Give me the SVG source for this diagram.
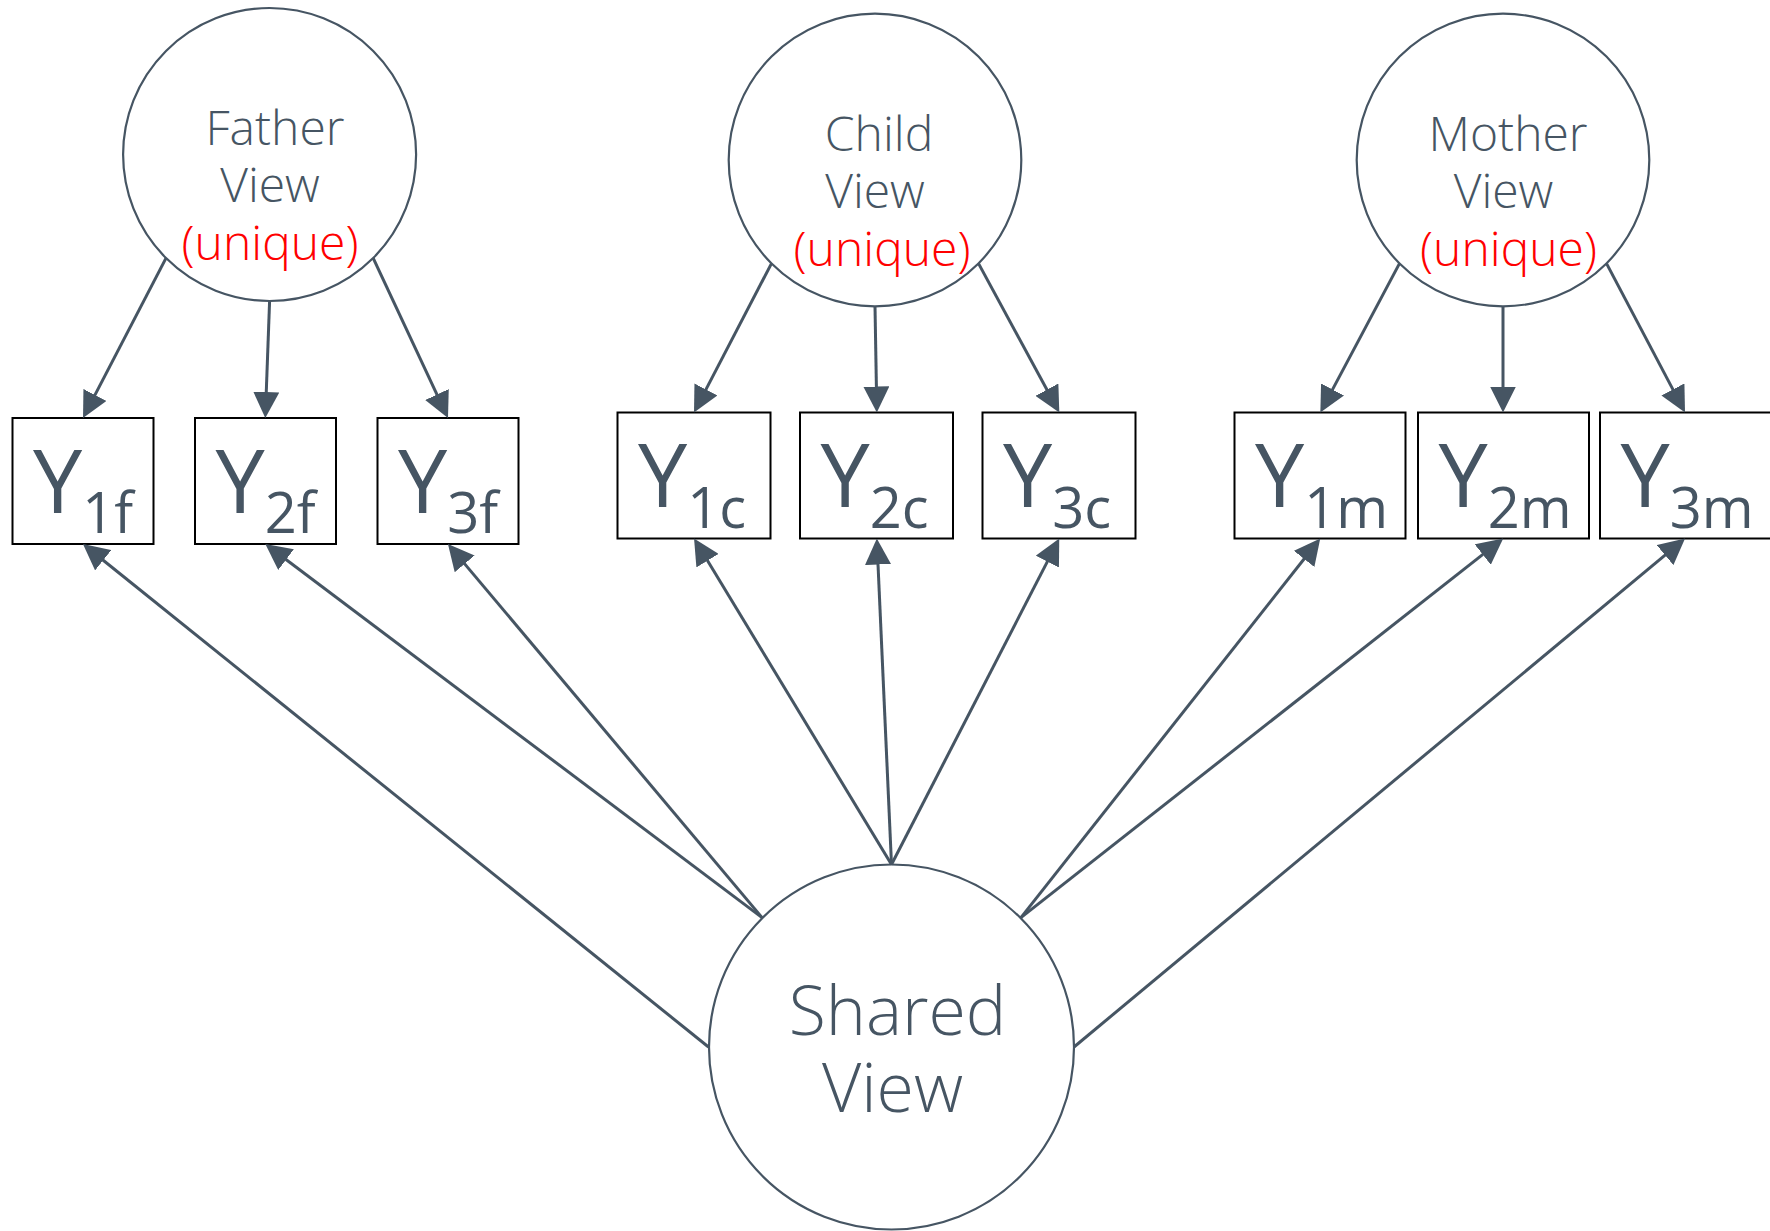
<svg xmlns="http://www.w3.org/2000/svg" width="1770" height="1231" viewBox="0 0 1770 1231">
  <style>
    .view { fill: #ffffff; stroke: #465563; stroke-width: 2.2; }
    .box { fill: #ffffff; stroke: #000000; stroke-width: 2; }
    .lbl { font-family: "Open Sans", "Noto Sans", "DejaVu Sans", sans-serif; font-weight: 300; fill: #465563; text-anchor: middle; font-size: 48px; }
    .big { font-size: 68px; }
    .uniq { fill: #ff0000; }
    .y { font-family: "Open Sans", "Noto Sans", "DejaVu Sans", sans-serif; font-weight: 400; fill: #465563; font-size: 88px; }
    .sub { font-size: 56px; }
    .edge { stroke: #465563; stroke-width: 3; fill: none; marker-end: url(#ah); }
  </style>
  <defs>
    <marker id="ah" markerUnits="userSpaceOnUse" markerWidth="26" markerHeight="26" refX="18" refY="13" orient="auto">
      <path d="M0,0 L26,13 L0,26 z" fill="#465563"/>
    </marker>
  </defs>
  <rect width="1770" height="1231" fill="#ffffff"/>

  <!-- latent views -->
  <g id="father-view">
    <circle class="view" cx="269.6" cy="154.5" r="146.5"/>
    <text class="lbl" x="275" y="145">Father</text>
    <text class="lbl" x="270" y="202">View</text>
    <text class="lbl uniq" x="270" y="259.5">(unique)</text>
  </g>
  <g id="child-view">
    <circle class="view" cx="875" cy="160" r="146.3"/>
    <text class="lbl" x="879" y="150.5">Child</text>
    <text class="lbl" x="875" y="207.5">View</text>
    <text class="lbl uniq" x="882" y="266">(unique)</text>
  </g>
  <g id="mother-view">
    <circle class="view" cx="1503" cy="160" r="146.3"/>
    <text class="lbl" x="1508" y="150.5">Mother</text>
    <text class="lbl" x="1503.5" y="207.5">View</text>
    <text class="lbl uniq" x="1508.5" y="266">(unique)</text>
  </g>
  <g id="shared-view">
    <circle class="view" cx="891.5" cy="1047" r="182.5"/>
    <text class="lbl big" x="897.5" y="1035">Shared</text>
    <text class="lbl big" x="892.5" y="1111.5">View</text>
  </g>

  <!-- observed indicators -->
  <g id="y1f"><rect class="box" x="12.5" y="418" width="141" height="126"/><text class="y" x="33" y="512.5">Y<tspan class="sub" dy="20">1f</tspan></text></g>
  <g id="y2f"><rect class="box" x="195" y="418" width="141" height="126"/><text class="y" x="215.5" y="512.5">Y<tspan class="sub" dy="20">2f</tspan></text></g>
  <g id="y3f"><rect class="box" x="377.5" y="418" width="141" height="126"/><text class="y" x="398" y="512.5">Y<tspan class="sub" dy="20">3f</tspan></text></g>

  <g id="y1c"><rect class="box" x="617.5" y="412.5" width="153" height="126"/><text class="y" x="638" y="507">Y<tspan class="sub" dy="21">1c</tspan></text></g>
  <g id="y2c"><rect class="box" x="800" y="412.5" width="153" height="126"/><text class="y" x="820.5" y="507">Y<tspan class="sub" dy="21">2c</tspan></text></g>
  <g id="y3c"><rect class="box" x="982.5" y="412.5" width="153" height="126"/><text class="y" x="1003" y="507">Y<tspan class="sub" dy="21">3c</tspan></text></g>

  <g id="y1m"><rect class="box" x="1234.5" y="412.5" width="171" height="126"/><text class="y" x="1255" y="507">Y<tspan class="sub" dy="21">1m</tspan></text></g>
  <g id="y2m"><rect class="box" x="1418" y="412.5" width="171" height="126"/><text class="y" x="1438.5" y="507">Y<tspan class="sub" dy="21">2m</tspan></text></g>
  <g id="y3m"><rect class="box" x="1600" y="412.5" width="180" height="126"/><text class="y" x="1620.5" y="507">Y<tspan class="sub" dy="21">3m</tspan></text></g>

  <!-- loadings -->
  <g id="connectors">
    <line class="edge" x1="166" y1="258.1" x2="86.7" y2="410.9"/>
    <line class="edge" x1="269.6" y1="301" x2="265.6" y2="410"/>
    <line class="edge" x1="373.2" y1="258.1" x2="444.6" y2="410.8"/>

    <line class="edge" x1="771.4" y1="263.6" x2="697.7" y2="405.4"/>
    <line class="edge" x1="875" y1="306.3" x2="876.7" y2="404.5"/>
    <line class="edge" x1="978.6" y1="263.6" x2="1055.5" y2="405.5"/>

    <line class="edge" x1="1399.4" y1="263.6" x2="1324.1" y2="405.4"/>
    <line class="edge" x1="1503" y1="306.3" x2="1503" y2="404.5"/>
    <line class="edge" x1="1606.6" y1="263.6" x2="1681.3" y2="405.4"/>

    <line class="edge" x1="708.5" y1="1047" x2="89.2" y2="549"/>
    <line class="edge" x1="762.1" y1="917.6" x2="271.7" y2="548.8"/>
    <line class="edge" x1="762.1" y1="917.6" x2="453.1" y2="550.1"/>

    <line class="edge" x1="891.5" y1="864.5" x2="698.2" y2="545.3"/>
    <line class="edge" x1="891.5" y1="864.5" x2="877.2" y2="546.5"/>
    <line class="edge" x1="891.5" y1="864.5" x2="1055.6" y2="545.6"/>

    <line class="edge" x1="1020.9" y1="917.6" x2="1315.3" y2="544.8"/>
    <line class="edge" x1="1020.9" y1="917.6" x2="1496.9" y2="543.4"/>
    <line class="edge" x1="1074" y1="1047" x2="1678.9" y2="543.6"/>
  </g>
</svg>
